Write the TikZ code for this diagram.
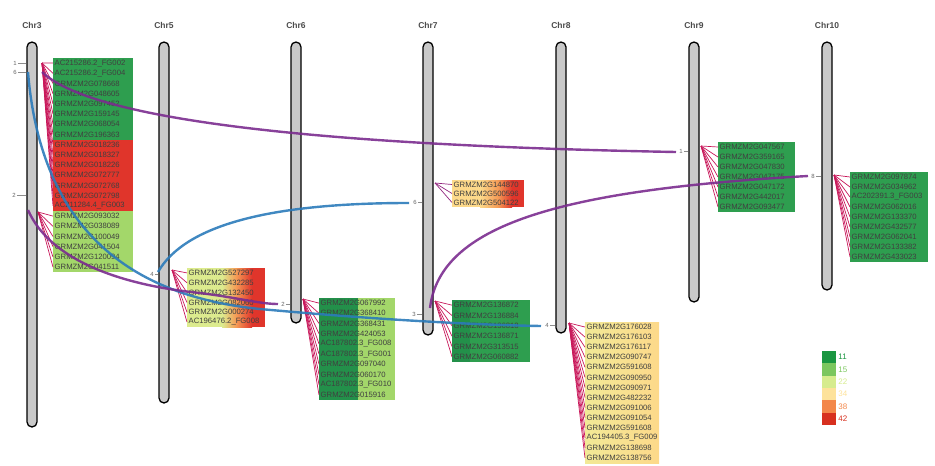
\documentclass[tikz,border=0pt]{standalone}
\usepackage{fontspec}
\setmainfont{Liberation Sans}
\definecolor{dg}{HTML}{2E9E4F}
\definecolor{dgd}{HTML}{23904A}
\definecolor{rd}{HTML}{E0352B}
\definecolor{lg}{HTML}{A3D76A}
\definecolor{yg}{HTML}{DCEB8E}
\definecolor{orng}{HTML}{F59A55}
\definecolor{ly}{HTML}{FDD98A}
\definecolor{lyg}{HTML}{F2E996}
\definecolor{chrfill}{HTML}{C9C9C9}
\definecolor{fanc}{HTML}{C8185A}
\definecolor{purp}{HTML}{7B2C8F}
\definecolor{blu}{HTML}{2B7BBA}
\definecolor{legA}{HTML}{1A9641}
\definecolor{legB}{HTML}{7BC75F}
\definecolor{legC}{HTML}{D6EC8E}
\definecolor{legD}{HTML}{FDE29A}
\definecolor{legE}{HTML}{F3874A}
\definecolor{legF}{HTML}{D7301F}
\newcommand{\generows}[5]{%
  \foreach \g [count=\i] in {#5}{%
    \node[gene] (#1\i) at (#2,{#3+(\i-0.5)*#4}) {\g};}}
\begin{document}
\begin{tikzpicture}[x=1pt,y=-1pt,
  chrom/.style={draw=black, line width=1.3pt, fill=chrfill, rounded corners=5pt, minimum width=10pt, inner sep=0pt},
  chrlab/.style={font=\bfseries\fontsize{8.5}{9}\selectfont, text=black!70},
  gene/.style={anchor=west, inner xsep=1.5pt, inner ysep=0pt, font=\fontsize{7.7}{8}\selectfont, text=black!75},
  mk/.style={font=\fontsize{6}{7}\selectfont, text=black!60, inner sep=1pt},
  tk/.style={draw=black!45, line width=0.5pt},
  fan/.style={draw=fanc, line width=0.7pt},
  link/.style={line width=2.4pt, opacity=0.9},
  legbox/.style={minimum width=14pt, minimum height=12.3pt, inner sep=0pt},
  legtxt/.style={anchor=west, font=\fontsize{8}{9}\selectfont, inner sep=2pt}
]
\useasboundingbox (0,0) rectangle (935,466);

% chromosomes
\node[chrom, minimum height=385pt] (chr3) at (32,234.5) {};
\node[chrom, minimum height=361pt] (chr5) at (164,222.5) {};
\node[chrom, minimum height=281pt] (chr6) at (296,182.5) {};
\node[chrom, minimum height=293pt] (chr7) at (428,188.5) {};
\node[chrom, minimum height=291pt] (chr8) at (561,187.5) {};
\node[chrom, minimum height=260pt] (chr9) at (694,172) {};
\node[chrom, minimum height=248pt] (chr10) at (827,166) {};
\node[chrlab] (l3) at (32,25) {Chr3};
\node[chrlab] (l5) at (164,25) {Chr5};
\node[chrlab] (l6) at (296,25) {Chr6};
\node[chrlab] (l7) at (428,25) {Chr7};
\node[chrlab] (l8) at (561,25) {Chr8};
\node[chrlab] (l9) at (694,25) {Chr9};
\node[chrlab] (l10) at (827,25) {Chr10};

% markers
\node[mk] (m3a) at (15,63) {1};
\node[mk] (m3b) at (15,72) {6};
\node[mk] (m3c) at (14,195) {2};
\node[mk] (m5) at (152,274) {4};
\node[mk] (m6) at (283,304) {2};
\node[mk] (m7a) at (415,202) {6};
\node[mk] (m7b) at (414,314) {3};
\node[mk] (m8) at (547,325) {4};
\node[mk] (m9) at (681,151) {1};
\node[mk] (m10) at (813,176) {8};
\foreach \m/\c in {m3a/chr3,m3b/chr3,m3c/chr3,m5/chr5,m6/chr6,m7a/chr7,m7b/chr7,m8/chr8,m9/chr9,m10/chr10}
  \draw[tk] (\m.east) -- (\m.east -| \c.west);

% box backgrounds
\fill[dg] (53,58) rectangle (133,139.6);
\fill[rd] (53,139.6) rectangle (133,211);
\fill[lg] (53,211) rectangle (133,272.2);

\fill[yg] (187,268) rectangle (222,327);
\shade[left color=yg, right color=orng] (222,268) rectangle (236,327);
\shade[left color=orng, right color=rd] (236,268) rectangle (252,327);
\fill[rd] (252,268) rectangle (265,327);

\fill[dgd] (319,298) rectangle (358,400);
\fill[lg] (358,298) rectangle (395,400);

\fill[ly] (452,180) rectangle (480,207);
\shade[left color=ly, right color=orng] (480,180) rectangle (498,207);
\shade[left color=orng, right color=rd] (498,180) rectangle (512,207);
\fill[rd] (512,180) rectangle (524,207);

\fill[dgd] (452,300) rectangle (470,362);
\fill[dg] (470,300) rectangle (530,362);

\shade[left color=lyg, right color=ly] (585,322) rectangle (659,463);

\fill[dg] (718,142) rectangle (795,212);
\fill[dg] (850,172) rectangle (928,262);

% gene rows
\generows{cA}{53}{58}{10.2}{AC215286.2\_FG002,AC215286.2\_FG004,GRMZM2G078668,GRMZM2G048605,GRMZM2G097452,GRMZM2G159145,GRMZM2G068054,GRMZM2G196363,GRMZM2G018236,GRMZM2G018327,GRMZM2G018226,GRMZM2G072777,GRMZM2G072768,GRMZM2G072798,AC211284.4\_FG003,GRMZM2G093032,GRMZM2G038089,GRMZM2G100049,GRMZM2G041504,GRMZM2G120094,GRMZM2G041511}
\generows{cB}{187}{268}{9.83}{GRMZM2G527297,GRMZM2G432285,GRMZM2G132450,GRMZM2G082060,GRMZM2G000274,AC196476.2\_FG008}
\generows{cC}{319}{298}{10.2}{GRMZM2G067992,GRMZM2G368410,GRMZM2G368431,GRMZM2G424053,AC187802.3\_FG008,AC187802.3\_FG001,GRMZM2G097040,GRMZM2G060170,AC187802.3\_FG010,GRMZM2G015916}
\generows{cD}{452}{180}{9}{GRMZM2G144870,GRMZM2G500596,GRMZM2G504122}
\generows{cE}{452}{300}{10.33}{GRMZM2G136872,GRMZM2G136884,GRMZM2G136818,GRMZM2G136871,GRMZM2G313515,GRMZM2G060882}
\generows{cF}{585}{322}{10.07}{GRMZM2G176028,GRMZM2G176103,GRMZM2G176117,GRMZM2G090747,GRMZM2G591608,GRMZM2G090950,GRMZM2G090971,GRMZM2G482232,GRMZM2G091006,GRMZM2G091054,GRMZM2G591608,AC194405.3\_FG009,GRMZM2G138698,GRMZM2G138756}
\generows{cG}{718}{142}{10}{GRMZM2G047567,GRMZM2G359165,GRMZM2G047830,GRMZM2G047175,GRMZM2G047172,GRMZM2G442017,GRMZM2G093477}
\generows{cH}{850}{172}{10}{GRMZM2G097874,GRMZM2G034962,AC202391.3\_FG003,GRMZM2G062016,GRMZM2G133370,GRMZM2G432577,GRMZM2G062041,GRMZM2G133382,GRMZM2G433023}

% fan origins
\coordinate (f3a) at (42,63);
\coordinate (f3b) at (38,212);
\coordinate (f5) at (172,270);
\coordinate (f6) at (303,299);
\coordinate (f7a) at (435,183);
\coordinate (f7b) at (435,301);
\coordinate (f8) at (569,323);
\coordinate (f9) at (701,146);
\coordinate (f10) at (834,175);
\foreach \i in {1,...,15} \draw[fan] (f3a) -- (cA\i.west);
\foreach \i in {16,...,21} \draw[fan] (f3b) -- (cA\i.west);
\foreach \i in {1,...,6} \draw[fan] (f5) -- (cB\i.west);
\foreach \i in {1,...,10} \draw[fan] (f6) -- (cC\i.west);
\foreach \i in {1,...,3} \draw[fan, draw=purp!70!fanc] (f7a) -- (cD\i.west);
\foreach \i in {1,...,6} \draw[fan] (f7b) -- (cE\i.west);
\foreach \i in {1,...,14} \draw[fan] (f8) -- (cF\i.west);
\foreach \i in {1,...,7} \draw[fan] (f9) -- (cG\i.west);
\foreach \i in {1,...,9} \draw[fan] (f10) -- (cH\i.west);

% synteny links
\coordinate (p1a) at (42,72);
\coordinate (p1b) at (676,152);
\coordinate (b1a) at (28,72);
\coordinate (b1b) at (541,326);
\coordinate (b2a) at (158,272);
\coordinate (b2b) at (409,203);
\coordinate (p2a) at (28,210);
\coordinate (p2b) at (278,304);
\coordinate (p3a) at (430,308);
\coordinate (p3b) at (808,176);
\draw[link, purp] (p1a) .. controls (90,118) and (300,145) .. (p1b);
\draw[link, blu] (b1a) .. controls (40,220) and (120,295) .. (260,309) .. controls (380,320) and (480,325) .. (b1b);
\draw[link, blu] (b2a) .. controls (185,225) and (270,203) .. (b2b);
\draw[link, purp] (p2a) .. controls (50,260) and (120,285) .. (200,293) .. controls (240,298) and (260,304) .. (p2b);
\draw[link, purp] (p3a) .. controls (440,225) and (560,190) .. (p3b);

% legend
\foreach \c/\v [count=\i] in {legA/11,legB/15,legC/22,legD/34,legE/38,legF/42}{
  \node[legbox, fill=\c] (lb\i) at (829,{351+(\i-0.5)*12.3}) {};
  \node[legtxt, text=\c] (lt\i) at (lb\i.east) {\v};
}
\end{tikzpicture}
\end{document}
